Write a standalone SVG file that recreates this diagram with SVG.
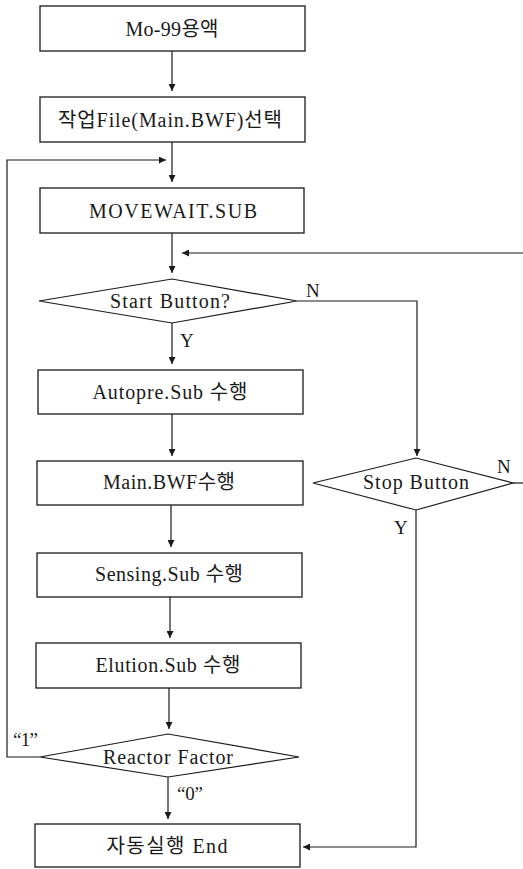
<svg xmlns="http://www.w3.org/2000/svg" width="523" height="869" viewBox="0 0 523 869">
  <defs>
    <marker id="arrow" viewBox="0 0 10 10" refX="10" refY="5" markerWidth="7" markerHeight="7" markerUnits="userSpaceOnUse" orient="auto">
      <path d="M0,0 L10,5 L0,10 Z" fill="#1a1a1a"/>
    </marker>
    <style>
      .box { fill: #ffffff; stroke: #1a1a1a; stroke-width: 1.3; }
      .dec { fill: #ffffff; stroke: #1a1a1a; stroke-width: 1.2; }
      .edge { fill: none; stroke: #1a1a1a; stroke-width: 1.2; }
      .arr { marker-end: url(#arrow); }
      text { font-family: "Liberation Serif", "Noto Sans CJK KR", serif; fill: #1a1a1a; }
      .lbl { font-size: 20px; text-anchor: middle; }
      .tag { font-size: 19px; }
    </style>
  </defs>
  <rect width="523" height="869" fill="#ffffff"/>

  <g id="connectors">
    <line class="edge arr" x1="172" y1="51" x2="172" y2="91"/>
    <line class="edge arr" x1="172" y1="142" x2="172" y2="182"/>
    <polyline class="edge arr" points="40,757 7,757 7,160 166,160"/>
    <line class="edge arr" x1="172" y1="233" x2="172" y2="273"/>
    <line class="edge arr" x1="523" y1="253" x2="182" y2="253"/>
    <polyline class="edge arr" points="297,301 417,301 417,456"/>
    <line class="edge arr" x1="172" y1="323" x2="172" y2="364"/>
    <line class="edge arr" x1="172" y1="414" x2="172" y2="456"/>
    <line class="edge" x1="513" y1="483" x2="523" y2="483"/>
    <polyline class="edge arr" points="416,510 416,847 303,847"/>
    <line class="edge arr" x1="171" y1="505" x2="171" y2="547"/>
    <line class="edge arr" x1="170" y1="597" x2="170" y2="638"/>
    <line class="edge arr" x1="169" y1="688" x2="169" y2="729"/>
    <line class="edge arr" x1="168" y1="777" x2="168" y2="819"/>
  </g>

  <g id="edge-labels">
    <text class="tag" x="306" y="297">N</text>
    <text class="tag" x="180" y="347">Y</text>
    <text class="tag" x="497" y="473">N</text>
    <text class="tag" x="394" y="534">Y</text>
    <text class="tag" x="13" y="746" textLength="25" lengthAdjust="spacing">“1”</text>
    <text class="tag" x="177" y="800" textLength="26" lengthAdjust="spacing">“0”</text>
  </g>

  <g id="mo99">
    <rect class="box" x="40" y="6" width="265" height="45"/>
    <text class="lbl" x="172" y="36" textLength="93" lengthAdjust="spacing">Mo-99용액</text>
  </g>
  <g id="select-file">
    <rect class="box" x="40" y="97" width="265" height="45"/>
    <text class="lbl" x="170" y="127" textLength="224" lengthAdjust="spacing">작업File(Main.BWF)선택</text>
  </g>
  <g id="movewait">
    <rect class="box" x="40" y="188" width="264" height="45"/>
    <text class="lbl" x="173" y="218" textLength="168" lengthAdjust="spacing">MOVEWAIT.SUB</text>
  </g>
  <g id="start-button">
    <polygon class="dec" points="39,301 172,279 297,301 172,323"/>
    <text class="lbl" x="170" y="308" textLength="120" lengthAdjust="spacing">Start  Button?</text>
  </g>
  <g id="autopre">
    <rect class="box" x="38" y="370" width="265" height="44"/>
    <text class="lbl" x="170" y="399" textLength="155" lengthAdjust="spacing">Autopre.Sub 수행</text>
  </g>
  <g id="main-bwf">
    <rect class="box" x="37" y="461" width="266" height="44"/>
    <text class="lbl" x="169" y="489" textLength="132" lengthAdjust="spacing">Main.BWF수행</text>
  </g>
  <g id="stop-button">
    <polygon class="dec" points="313,483 416,458 513,483 416,510"/>
    <text class="lbl" x="416" y="489" textLength="106" lengthAdjust="spacing">Stop  Button</text>
  </g>
  <g id="sensing">
    <rect class="box" x="37" y="553" width="265" height="44"/>
    <text class="lbl" x="169" y="581" textLength="148" lengthAdjust="spacing">Sensing.Sub 수행</text>
  </g>
  <g id="elution">
    <rect class="box" x="36" y="643" width="265" height="45"/>
    <text class="lbl" x="168" y="672" textLength="145" lengthAdjust="spacing">Elution.Sub 수행</text>
  </g>
  <g id="reactor-factor">
    <polygon class="dec" points="40,757 168,734 299,757 168,777"/>
    <text class="lbl" x="168" y="764" textLength="130" lengthAdjust="spacing">Reactor  Factor</text>
  </g>
  <g id="auto-end">
    <rect class="box" x="35" y="824" width="265" height="43"/>
    <text class="lbl" x="167" y="853" textLength="121" lengthAdjust="spacing">자동실행  End</text>
  </g>
</svg>
